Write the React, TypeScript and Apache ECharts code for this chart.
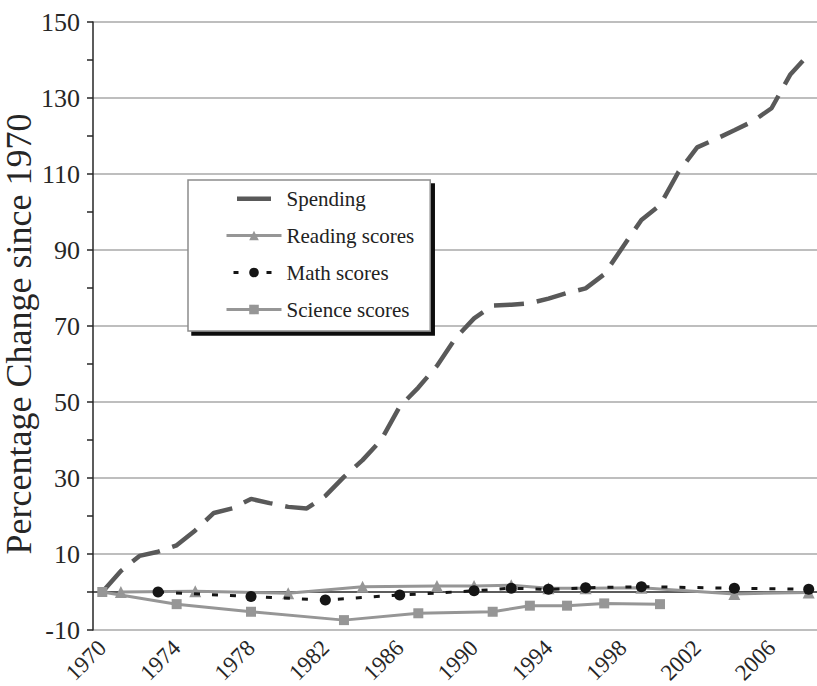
import React, { useEffect, useRef } from "react";
import * as echarts from "echarts";

const years = [
  "1970", "1971", "1972", "1973", "1974", "1975", "1976", "1977", "1978", "1979",
  "1980", "1981", "1982", "1983", "1984", "1985", "1986", "1987", "1988", "1989",
  "1990", "1991", "1992", "1993", "1994", "1995", "1996", "1997", "1998", "1999",
  "2000", "2001", "2002", "2003", "2004", "2005", "2006", "2007", "2008",
];

const spending = [
  0, 5.5, 9.5, 10.6, 12.3, 16.2, 20.8, 22.0, 24.5, 23.4,
  22.4, 22.0, 25.3, 30.3, 34.7, 40.0, 48.8, 53.8, 59.5, 66.8,
  72.0, 75.4, 75.6, 76.0, 77.2, 78.7, 79.9, 83.6, 90.8, 97.9,
  101.8, 110.6, 117.0, 119.2, 121.5, 123.9, 127.3, 136.1, 141.5,
];

const readingYears = ["1971", "1975", "1980", "1984", "1988", "1990", "1992", "1994", "1996", "1999", "2004", "2008"];
const readingValues = [0, 0.2, -0.3, 1.4, 1.6, 1.6, 1.8, 1.0, 1.0, 1.1, -0.5, -0.1];

const mathYears = ["1973", "1978", "1982", "1986", "1990", "1992", "1994", "1996", "1999", "2004", "2008"];
const mathValues = [0, -1.2, -2.1, -0.8, 0.3, 1.0, 0.7, 1.1, 1.4, 1.0, 0.7];

const scienceYears = ["1970", "1974", "1978", "1983", "1987", "1991", "1993", "1995", "1997", "2000"];
const scienceValues = [0, -3.2, -5.2, -7.4, -5.6, -5.2, -3.6, -3.6, -3.0, -3.2];

const seriesNames = ["Spending", "Reading scores", "Math scores", "Science scores"];

const FONT = "Liberation Serif";
const AXIS_COLOR = "#262626";
const GRID_COLOR = "#a8a8a8";

export default function App() {
  const ref = useRef<HTMLDivElement>(null);

  useEffect(() => {
    if (!ref.current) return;
    const chart = echarts.init(ref.current, undefined, { renderer: "svg" });
    const pair = (ys: string[], vs: number[]) => ys.map((y, i) => [y, vs[i]]);
    const axisLine = { color: AXIS_COLOR, width: 1.5 };
    chart.setOption({
      animation: false,
      backgroundColor: "#ffffff",
      textStyle: { fontFamily: FONT },
      grid: {
        left: 93,
        right: -1,
        top: 22,
        bottom: 56,
        containLabel: false,
        outerBoundsMode: "none",
      },
      legend: {
        orient: "vertical",
        left: 188,
        top: 180,
        padding: [8, 16, 11, 37],
        itemGap: 16,
        itemWidth: 55,
        itemHeight: 12,
        backgroundColor: "#ffffff",
        borderColor: "#8c8c8c",
        borderWidth: 1.5,
        shadowColor: "#111111",
        shadowOffsetX: 4,
        shadowOffsetY: 4,
        shadowBlur: 0,
        lineStyle: { width: 3 },
        textStyle: { fontFamily: FONT, fontSize: 21, color: "#222222" },
        data: [
          { name: seriesNames[0], icon: "path://M0,0 M55,12 M10.5,4 h34 v4.5 h-34 z" },
          { name: seriesNames[1], lineStyle: { width: 3 } },
          { name: seriesNames[2], lineStyle: { width: 3, type: [5, 28], dashOffset: 26 } },
          { name: seriesNames[3], lineStyle: { width: 3 } },
        ],
      },
      xAxis: {
        type: "category",
        data: years,
        boundaryGap: true,
        axisLine: { lineStyle: axisLine },
        axisTick: { interval: 1, length: 5, lineStyle: axisLine },
        axisLabel: {
          interval: 3,
          rotate: 45,
          margin: 14,
          fontSize: 23,
          color: AXIS_COLOR,
          fontFamily: FONT,
        },
        splitLine: { show: false },
      },
      yAxis: {
        type: "value",
        min: -10,
        max: 150,
        interval: 20,
        name: "Percentage Change since 1970",
        nameLocation: "middle",
        nameGap: 56,
        nameMoveOverlap: false,
        nameTextStyle: {
          fontSize: 36,
          color: AXIS_COLOR,
          fontFamily: FONT,
          padding: [0, 16, 0, 0],
        },
        axisLine: { show: true, lineStyle: axisLine },
        axisTick: { show: true, length: 6, lineStyle: axisLine },
        minorTick: { show: true, splitNumber: 2, length: 6, lineStyle: axisLine },
        axisLabel: { fontSize: 26, color: AXIS_COLOR, margin: 13, fontFamily: FONT },
        splitLine: { show: true, lineStyle: { color: GRID_COLOR, width: 1.5 } },
      },
      series: [
        {
          name: seriesNames[0],
          type: "line",
          data: spending,
          symbol: "none",
          itemStyle: { color: "#595959" },
          lineStyle: { color: "#595959", width: 4.5, type: [30, 13], cap: "butt" },
          z: 2,
        },
        {
          name: seriesNames[1],
          type: "line",
          data: pair(readingYears, readingValues),
          symbol: "triangle",
          symbolSize: 12,
          itemStyle: { color: "#969696" },
          lineStyle: { color: "#969696", width: 3 },
          z: 3,
        },
        {
          name: seriesNames[2],
          type: "line",
          data: pair(mathYears, mathValues),
          symbol: "circle",
          symbolSize: 11,
          itemStyle: { color: "#151515" },
          lineStyle: { color: "#151515", width: 3, type: [6, 12], cap: "butt" },
          z: 4,
        },
        {
          name: seriesNames[3],
          type: "line",
          data: pair(scienceYears, scienceValues),
          symbol: "rect",
          symbolSize: 10,
          itemStyle: { color: "#969696" },
          lineStyle: { color: "#969696", width: 3 },
          z: 5,
        },
      ],
    });
    return () => chart.dispose();
  }, []);

  return (
    <div
      ref={ref}
      style={{ position: "fixed", left: 0, top: 0, width: 817, height: 686 }}
    />
  );
}
